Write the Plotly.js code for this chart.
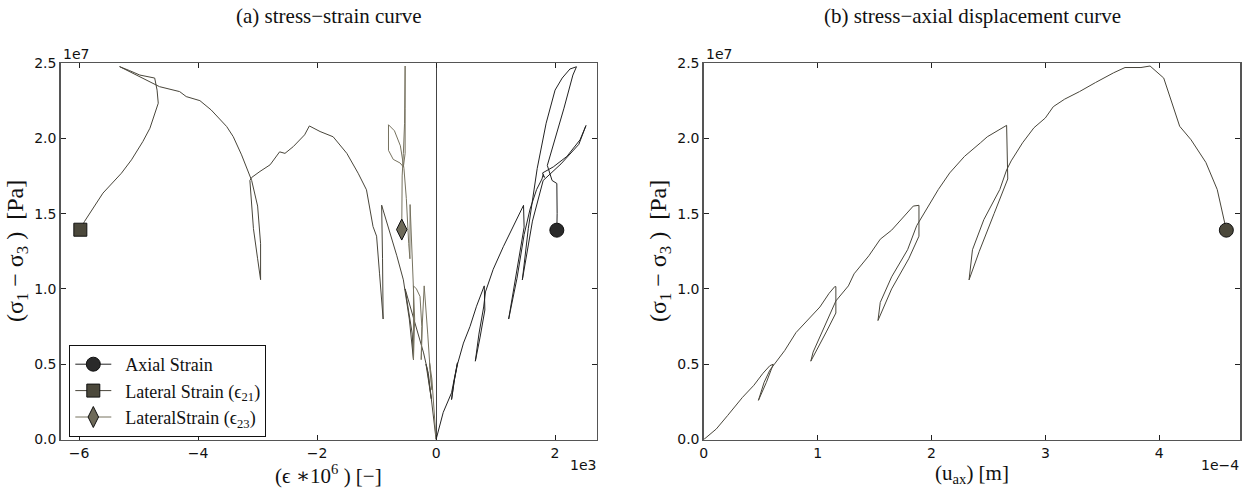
<!DOCTYPE html>
<html>
<head>
<meta charset="utf-8">
<script src="https://cdn.plot.ly/plotly-3.0.1.min.js"></script>
<style>html,body{margin:0;padding:0;background:#fff;}#chart{width:1256px;height:490px;}</style>
</head>
<body>
<div id="chart"></div>
<script>
// ---- data (x in units of 1e3 for strain, 1e-4 m for displacement; stress in units of 1e7 Pa) ----
var axialStrain = [0,0.12,0.26,0.36,0.30,0.26,0.31,0.36,0.46,0.57,0.68,0.81,0.82,0.74,0.66,0.72,0.80,0.83,0.96,1.13,1.30,1.47,1.48,1.35,1.22,1.36,1.48,1.58,1.69,1.78,1.80,1.82,1.79,1.97,2.20,2.42,2.52,2.40,2.10,1.80,1.62,1.45,1.55,1.70,1.85,2.00,2.12,2.25,2.36,2.30,2.15,1.98,1.87,1.95,2.03,2.035,2.03];
var axialStress = [0,0.18,0.31,0.51,0.38,0.265,0.40,0.50,0.64,0.75,0.885,1.02,0.86,0.68,0.52,0.70,0.88,0.98,1.13,1.28,1.42,1.555,1.41,1.10,0.80,1.07,1.36,1.53,1.66,1.73,1.76,1.74,1.77,1.81,1.88,1.99,2.085,1.96,1.83,1.72,1.45,1.06,1.40,1.80,2.10,2.32,2.40,2.46,2.475,2.42,2.20,1.97,1.82,1.72,1.70,1.50,1.39];

var lateral21Strain = [0,-0.07,-0.13,-0.17,-0.08,-0.15,-0.21,-0.325,-0.44,-0.52,-0.40,-0.38,-0.45,-0.55,-0.66,-0.80,-0.915,-0.90,-0.89,-0.95,-1.00,-1.06,-1.17,-1.31,-1.50,-1.73,-1.95,-2.13,-2.21,-2.40,-2.54,-2.63,-2.79,-2.96,-3.10,-3.13,-3.07,-3.00,-2.95,-2.95,-3.00,-3.10,-3.16,-3.27,-3.41,-3.52,-3.78,-3.97,-4.20,-4.31,-4.65,-4.93,-5.32,-5.15,-4.98,-4.73,-4.69,-4.67,-4.81,-4.93,-5.12,-5.29,-5.60,-5.91,-5.98];
var lateral21Stress = [0,0.22,0.44,0.50,0.27,0.47,0.575,0.73,0.88,1.00,0.70,0.53,0.80,1.06,1.22,1.41,1.556,1.20,0.80,1.10,1.35,1.414,1.658,1.768,1.90,2.01,2.045,2.082,2.023,1.945,1.90,1.91,1.824,1.78,1.74,1.72,1.40,1.20,1.061,1.30,1.55,1.72,1.779,1.89,2.011,2.078,2.188,2.25,2.277,2.31,2.343,2.398,2.476,2.449,2.42,2.40,2.32,2.233,2.067,1.978,1.857,1.768,1.636,1.448,1.393];

var lateral23Strain = [0,-0.03,-0.07,-0.11,-0.07,-0.10,-0.14,-0.18,-0.20,-0.23,-0.25,-0.24,-0.27,-0.33,-0.38,-0.38,-0.36,-0.39,-0.42,-0.437,-0.44,-0.46,-0.50,-0.54,-0.60,-0.70,-0.80,-0.80,-0.72,-0.605,-0.55,-0.52,-0.52,-0.52,-0.53,-0.55,-0.57,-0.577];
var lateral23Stress = [0,0.20,0.40,0.51,0.33,0.46,0.70,0.92,1.02,0.78,0.53,0.75,0.95,1.00,1.02,0.53,0.80,1.10,1.40,1.56,1.20,1.30,1.60,1.80,1.95,2.05,2.09,1.92,1.86,1.836,1.81,1.90,2.20,2.48,2.10,1.90,1.75,1.394];

var axialDisp = [0,0.11,0.21,0.34,0.44,0.52,0.58,0.61,0.55,0.48,0.53,0.58,0.62,0.71,0.81,0.91,1.02,1.10,1.15,1.16,1.16,1.08,1.00,0.94,0.96,1.04,1.12,1.16,1.27,1.32,1.45,1.55,1.65,1.76,1.84,1.89,1.89,1.80,1.65,1.53,1.55,1.65,1.79,1.87,1.99,2.06,2.16,2.29,2.43,2.49,2.66,2.67,2.55,2.42,2.33,2.36,2.46,2.60,2.66,2.70,2.80,2.90,3.00,3.07,3.17,3.30,3.44,3.60,3.70,3.84,3.92,4.04,4.18,4.28,4.41,4.51,4.59];
var dispStress = [0,0.07,0.16,0.28,0.36,0.44,0.49,0.50,0.38,0.26,0.38,0.46,0.50,0.59,0.71,0.79,0.88,0.97,1.015,1.015,0.84,0.72,0.60,0.52,0.58,0.72,0.86,0.92,1.02,1.10,1.22,1.33,1.39,1.48,1.55,1.555,1.35,1.20,1.00,0.79,0.91,1.08,1.26,1.42,1.57,1.66,1.77,1.88,1.97,2.01,2.086,1.73,1.50,1.25,1.06,1.26,1.46,1.66,1.79,1.85,1.97,2.07,2.135,2.21,2.26,2.31,2.37,2.435,2.47,2.47,2.48,2.40,2.08,1.99,1.84,1.66,1.39];

var strainTicks = [-6,-4,-2,0,2];
var dispTicks = [0,1,2,3,4];
var stressTicks = [0,0.5,1.0,1.5,2.0,2.5];
var legendNames = ['Axial Strain','Lateral Strain (\u03F5<sub>21</sub>)','LateralStrain (\u03F5<sub>23</sub>)'];

function last(a){return a[a.length-1];}

var serif = 'Liberation Serif, DejaVu Serif, serif';
var sans = 'DejaVu Sans, sans-serif';

var series = [
  {x:axialStrain, y:axialStress, line:'#222222', fill:'#2a2a2a', symbol:'circle', size:14, name:legendNames[0]},
  {x:lateral21Strain, y:lateral21Stress, line:'#48453a', fill:'#4b483b', symbol:'square', size:13, name:legendNames[1]},
  {x:lateral23Strain, y:lateral23Stress, line:'#76725f', fill:'#6e6a59', symbol:'diamond-tall', size:15, name:legendNames[2]}
];

var traces = [];
series.forEach(function(s,i){
  traces.push({type:'scatter', mode:'lines', x:s.x, y:s.y, xaxis:'x', yaxis:'y',
    line:{color:s.line, width:1}, showlegend:false, legendgroup:'g'+i, hoverinfo:'skip'});
});
series.forEach(function(s,i){
  traces.push({type:'scatter', mode:'lines+markers', x:[last(s.x)], y:[last(s.y)], xaxis:'x', yaxis:'y',
    line:{color:s.line, width:1}, marker:{symbol:s.symbol, size:s.size, color:s.fill, line:{color:'#111', width:1}},
    name:'\u2002'+s.name, legendgroup:'g'+i});
});
traces.push({type:'scatter', mode:'lines', x:axialDisp, y:dispStress, xaxis:'x2', yaxis:'y2',
  line:{color:'#48453a', width:1}, showlegend:false});
traces.push({type:'scatter', mode:'markers', x:[last(axialDisp)], y:[last(dispStress)], xaxis:'x2', yaxis:'y2',
  marker:{symbol:'circle', size:14, color:'#4b483b', line:{color:'#111', width:1}}, showlegend:false});

var axCommon = {showline:true, linecolor:'#555', linewidth:1.5, mirror:'ticks', ticks:'inside', ticklen:5,
  tickwidth:1, tickcolor:'#222', showgrid:false, tickfont:{family:sans, size:14, color:'#111'}, fixedrange:true};

function ax(extra){var o={};for(var k in axCommon)o[k]=axCommon[k];for(var k2 in extra)o[k2]=extra[k2];return o;}

var W=1256,H=490;
function px(x){return x/W;} function py(y){return (H-y)/H;}

function ann(text,x,y,size,fam,opts){
  var a={text:text, x:px(x), y:py(y), xref:'paper', yref:'paper', showarrow:false, xanchor:'center', yanchor:'middle',
    font:{family:fam, size:size, color:'#111'}};
  if(opts) for(var k in opts) a[k]=opts[k];
  return a;
}

var ylab = '(\u03C3<sub>1</sub> \u2212 \u03C3<sub>3</sub> )\u2002[Pa]';

var layout = {
  width:W, height:H, margin:{l:0,r:0,t:0,b:0}, paper_bgcolor:'#fff', plot_bgcolor:'#fff',
  xaxis: ax({domain:[px(60.7),px(596.7)], range:[-6.31,2.70], tickvals:strainTicks, zeroline:true, zerolinecolor:'#444', zerolinewidth:1, anchor:'y'}),
  yaxis: ax({domain:[py(439.5),py(63)], range:[0,2.5], tickvals:stressTicks, tickformat:'.1f', zeroline:false, anchor:'x'}),
  xaxis2: ax({domain:[px(703.8),px(1240)], range:[0,4.71], tickvals:dispTicks, zeroline:false, anchor:'y2'}),
  yaxis2: ax({domain:[py(439.5),py(63)], range:[0,2.5], tickvals:stressTicks, tickformat:'.1f', zeroline:false, anchor:'x2'}),
  showlegend:true,
  legend:{x:px(69.3), y:py(345), xanchor:'left', yanchor:'top', bgcolor:'#fff', bordercolor:'#111', borderwidth:1,
    font:{family:serif, size:18, color:'#111'}, itemwidth:36, tracegroupgap:0},
  annotations:[
    ann('(a) stress\u2212strain curve', 328.7, 16, 21, serif),
    ann('(b) stress\u2212axial displacement curve', 972, 16, 21, serif),
    ann(ylab, 17, 251, 24, serif, {textangle:-90}),
    ann(ylab, 660, 251, 24, serif, {textangle:-90}),
    ann('(\u03F5 \u221710<sup>6</sup> ) [\u2212]', 328.7, 474, 21, serif),
    ann('(u<sub>ax</sub>) [m]', 972, 474, 21, serif),
    ann('1e7', 61, 54, 14, sans, {xanchor:'left'}),
    ann('1e7', 704, 54, 14, sans, {xanchor:'left'}),
    ann('1e3', 598, 465, 14, sans, {xanchor:'right'}),
    ann('1e\u22124', 1241, 465, 14, sans, {xanchor:'right'})
  ]
};

Plotly.newPlot('chart', traces, layout, {displayModeBar:false, staticPlot:true});
</script>
</body>
</html>
